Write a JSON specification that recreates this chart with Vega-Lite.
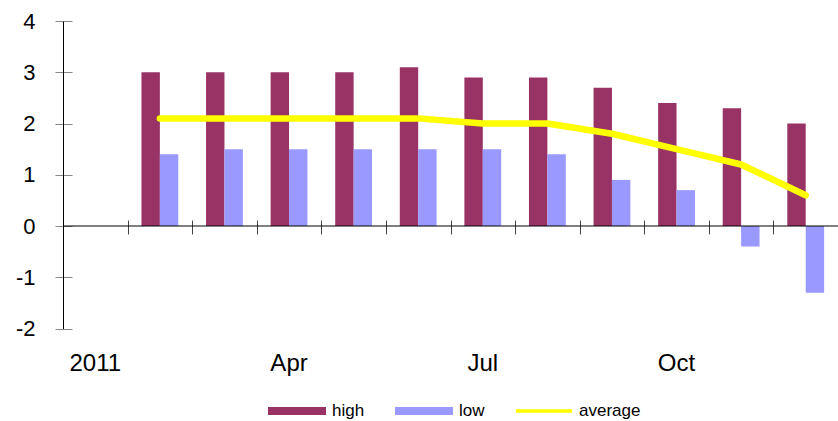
{
  "$schema": "https://vega.github.io/schema/vega-lite/v6.json",
  "width": 775,
  "height": 307.5,
  "autosize": {"type": "none"},
  "padding": {"left": 63, "top": 21, "right": 0, "bottom": 92.5},
  "background": "white",
  "config": {"view": {"stroke": null}, "font": "Liberation Sans"},
  "data": {"values": [
    {"month": "Feb", "series": "high", "value": 3.0},
    {"month": "Mar", "series": "high", "value": 3.0},
    {"month": "Apr", "series": "high", "value": 3.0},
    {"month": "May", "series": "high", "value": 3.0},
    {"month": "Jun", "series": "high", "value": 3.1},
    {"month": "Jul", "series": "high", "value": 2.9},
    {"month": "Aug", "series": "high", "value": 2.9},
    {"month": "Sep", "series": "high", "value": 2.7},
    {"month": "Oct", "series": "high", "value": 2.4},
    {"month": "Nov", "series": "high", "value": 2.3},
    {"month": "Dec", "series": "high", "value": 2.0},
    {"month": "Feb", "series": "low", "value": 1.4},
    {"month": "Mar", "series": "low", "value": 1.5},
    {"month": "Apr", "series": "low", "value": 1.5},
    {"month": "May", "series": "low", "value": 1.5},
    {"month": "Jun", "series": "low", "value": 1.5},
    {"month": "Jul", "series": "low", "value": 1.5},
    {"month": "Aug", "series": "low", "value": 1.4},
    {"month": "Sep", "series": "low", "value": 0.9},
    {"month": "Oct", "series": "low", "value": 0.7},
    {"month": "Nov", "series": "low", "value": -0.4},
    {"month": "Dec", "series": "low", "value": -1.3},
    {"month": "Feb", "series": "average", "value": 2.1},
    {"month": "Mar", "series": "average", "value": 2.1},
    {"month": "Apr", "series": "average", "value": 2.1},
    {"month": "May", "series": "average", "value": 2.1},
    {"month": "Jun", "series": "average", "value": 2.1},
    {"month": "Jul", "series": "average", "value": 2.0},
    {"month": "Aug", "series": "average", "value": 2.0},
    {"month": "Sep", "series": "average", "value": 1.8},
    {"month": "Oct", "series": "average", "value": 1.5},
    {"month": "Nov", "series": "average", "value": 1.2},
    {"month": "Dec", "series": "average", "value": 0.6}
  ]},
  "resolve": {"axis": {"x": "independent", "y": "independent"}},
  "layer": [
    {
      "transform": [{"filter": "datum.series !== 'average'"}],
      "mark": {"type": "bar"},
      "encoding": {
        "x": {
          "field": "month", "type": "nominal",
          "scale": {"domain": ["Jan","Feb","Mar","Apr","May","Jun","Jul","Aug","Sep","Oct","Nov","Dec"], "paddingInner": 0.43, "paddingOuter": 0.215},
          "sort": null,
          "axis": {
            "orient": "bottom", "title": null, "domain": false, "ticks": false, "grid": false,
            "labelAngle": 0, "labelFontSize": 24, "labelColor": "#000", "labelPadding": 23,
            "labelFont": "Liberation Sans",
            "labelExpr": "datum.value == 'Jan' ? '2011' : (datum.value == 'Apr' || datum.value == 'Jul' || datum.value == 'Oct') ? datum.value : ''"
          }
        },
        "xOffset": {"field": "series", "type": "nominal", "scale": {"domain": ["high", "low"], "paddingInner": 0, "paddingOuter": 0}},
        "y": {
          "field": "value", "type": "quantitative",
          "scale": {"domain": [-2, 4], "nice": false, "zero": false},
          "axis": {
            "orient": "left", "title": null, "offset": -9, "domain": false, "grid": false,
            "values": [-2, -1, 0, 1, 2, 3, 4], "tickSize": 17, "tickColor": "#888",
            "labelPadding": 20, "labelFontSize": 22, "labelColor": "#000", "labelFont": "Liberation Sans",
            "labelExpr": "toString(datum.value)"
          }
        },
        "color": {
          "field": "series", "type": "nominal",
          "scale": {"domain": ["high", "low", "average"], "range": ["#993366", "#9999ff", "#ffff00"]},
          "legend": {
            "orient": "none", "legendX": 205, "legendY": 361, "direction": "horizontal",
            "title": null, "symbolType": "M-1,-0.14H1V0.14H-1Z", "symbolSize": 3364,
            "symbolStrokeWidth": 0, "labelFontSize": 17, "labelFont": "Liberation Sans", "labelColor": "#000",
            "labelOffset": 6, "columnPadding": 30, "symbolOpacity": 1,
            "encode": {"symbols": {"update": {"shape": {"signal": "datum.value === 'average' ? 'M-0.97,-0.06H0.97V0.06H-0.97Z' : 'M-1,-0.14H1V0.14H-1Z'"}}}}
          }
        }
      }
    },
    {
      "data": {"values": [{"v": 0}]},
      "mark": {"type": "rule", "color": "#000", "strokeWidth": 1},
      "encoding": {
        "y": {"field": "v", "type": "quantitative", "axis": null}
      }
    },
    {
      "transform": [{"filter": "datum.series === 'average'"}],
      "mark": {"type": "line", "color": "#ffff00", "strokeWidth": 6.5, "strokeCap": "round", "strokeJoin": "round"},
      "encoding": {
        "x": {
          "field": "month", "type": "nominal", "sort": null,
          "axis": {
            "orient": "bottom", "title": null, "offset": -108.5, "domain": false, "labels": false, "grid": false,
            "ticks": true, "tickSize": 14, "tickColor": "#444", "tickOffset": -32.29, "bandPosition": 0.5
          }
        },
        "y": {
          "field": "value", "type": "quantitative",
          "axis": {"orient": "left", "title": null, "offset": 0, "domain": true, "domainColor": "#000", "ticks": false, "labels": false, "grid": false}
        }
      }
    }
  ]
}
